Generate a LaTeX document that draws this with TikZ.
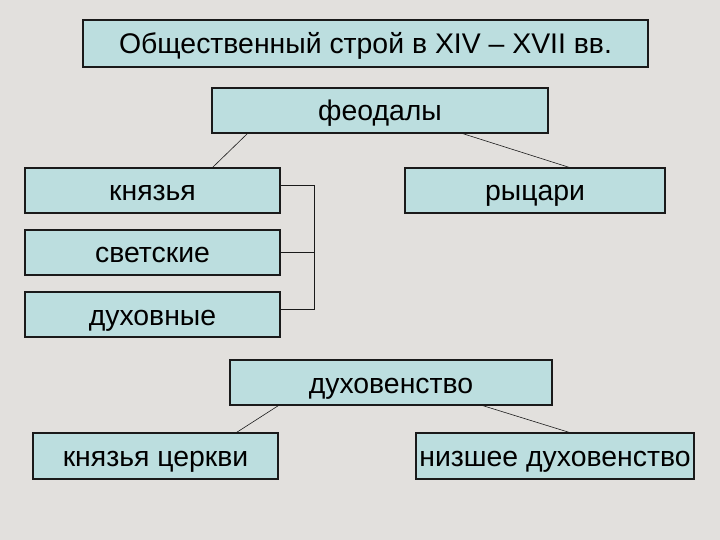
\documentclass[tikz,border=0pt]{standalone}
\usepackage{fontspec}
\setmainfont{Liberation Sans}
\usetikzlibrary{positioning,calc}
\definecolor{paper}{HTML}{E2E0DD}
\definecolor{boxfill}{HTML}{BCDEDF}
\definecolor{ink}{HTML}{1A1A1A}
\tikzset{
  rank/.style={draw=ink,line width=1.1pt,fill=boxfill,inner sep=0pt,
    text height=21bp,text depth=0pt,
    font=\fontsize{28.5}{32}\selectfont,text=black},
  link/.style={draw=ink,line width=0.6pt}
}
\begin{document}
\begin{tikzpicture}[x=1bp,y=-1bp]
    \fill[paper] (0,0) rectangle (720,540);
    \useasboundingbox (0,0) rectangle (720,540);
    \node[rank,minimum width=565bp,minimum height=47bp] (title) at (365.5,43.5)
      {Общественный строй в XIV – XVII вв.};
    \node[rank,minimum width=336bp,minimum height=45bp] (feod) at (380,110.5) {феодалы};
    \node[rank,minimum width=255bp,minimum height=45bp] (kn) at (152.5,190.5) {князья};
    \node[rank,minimum width=260bp,minimum height=45bp] (ryc) at (535,190.5) {рыцари};
    \node[rank,minimum width=255bp,minimum height=45bp] (svet) at (152.5,252.5) {светские};
    \node[rank,minimum width=255bp,minimum height=45bp] (duh) at (152.5,314.5) {духовные};
    \node[rank,minimum width=322bp,minimum height=45bp] (clergy) at (391,382.5) {духовенство};
    \node[rank,minimum width=245bp,minimum height=46bp] (knc) at (155.5,456) {князья церкви};
    \node[rank,minimum width=278bp,minimum height=46bp] (low) at (555,456) {низшее духовенство};
    \draw[link] ([xshift=36bp]feod.south west) -- ([xshift=-68bp]kn.north east);
    \draw[link] ([xshift=-86bp]feod.south east) -- ([xshift=165bp]ryc.north west);
    \draw[link] ([xshift=49bp]clergy.south west) -- ([xshift=-42bp]knc.north east);
    \draw[link] ([xshift=-70bp]clergy.south east) -- ([xshift=154bp]low.north west);
    \draw[link] ([yshift=5bp]kn.east) -- ++(34,0) coordinate (brk)
      |- ([yshift=5bp]duh.east);
    \draw[link] (svet.east) -- (svet.east -| brk);
  \end{tikzpicture}
\end{document}
